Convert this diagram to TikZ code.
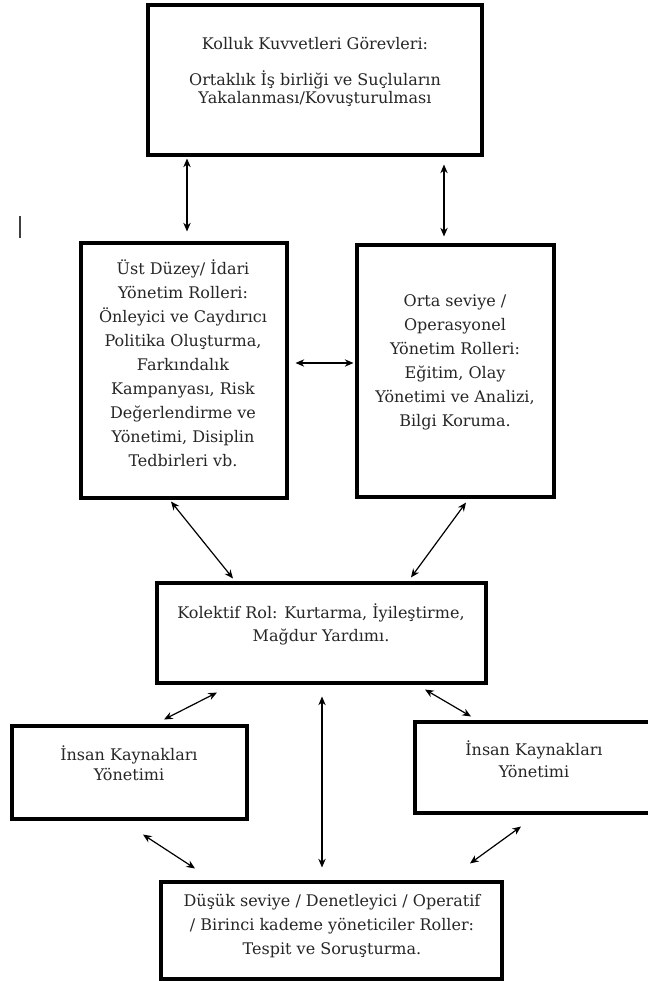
\documentclass[tikz,border=0pt]{standalone}
\usepackage{fontspec}
\setmainfont{DejaVu Serif}
\usetikzlibrary{arrows.meta}
\tikzset{
  box/.style={draw=black, line width=2.3pt, rectangle, inner sep=0pt, fill=white},
  txt/.style={align=center, inner sep=0pt, font=\fontsize{12}{18}\selectfont, text=black!85},
  arr/.style={line width=0.9pt, {Stealth[length=6.5pt,width=5.5pt]}-{Stealth[length=6.5pt,width=5.5pt]}}
}
\begin{document}
\begin{tikzpicture}[x=0.75pt,y=-0.75pt]
\useasboundingbox[fill=white] (0,0) rectangle (648,981);
% boxes
\node[box, minimum width=250.5pt, minimum height=112.5pt] (top) at (315,80) {};
\node[box, minimum width=154.5pt, minimum height=191.25pt] (ust) at (184,370.5) {};
\node[box, minimum width=147.75pt, minimum height=189pt] (orta) at (455.5,371) {};
\node[box, minimum width=246.75pt, minimum height=75pt] (kol) at (321.5,633) {};
\node[box, minimum width=176.25pt, minimum height=69.75pt] (hrL) at (129.5,772.5) {};
\node[box, minimum width=177.75pt, minimum height=68.25pt] (hrR) at (533.5,767.5) {};
\node[box, minimum width=255.75pt, minimum height=72.75pt] (bot) at (331.5,930.5) {};
% texts
\node[txt] (t1) at (315,43) {Kolluk Kuvvetleri Görevleri:};
\node[txt, font=\fontsize{12}{13.5}\selectfont] (t2) at (315,89) {Ortaklık İş birliği ve Suçluların\\Yakalanması/Kovuşturulması};
\node[txt] (t3) at (183,363.5) {Üst Düzey/ İdari\\Yönetim Rolleri:\\Önleyici ve Caydırıcı\\Politika Oluşturma,\\Farkındalık\\Kampanyası, Risk\\Değerlendirme ve\\Yönetimi, Disiplin\\Tedbirleri vb.};
\node[txt] (t4) at (455,362.5) {Orta seviye /\\Operasyonel\\Yönetim Rolleri:\\Eğitim, Olay\\Yönetimi ve Analizi,\\Bilgi Koruma.};
\node[txt, font=\fontsize{12}{17.25}\selectfont] (t5) at (321,624.5) {Kolektif Rol: Kurtarma, İyileştirme,\\Mağdur Yardımı.};
\node[txt, font=\fontsize{12}{15}\selectfont] (t6) at (129,763) {İnsan Kaynakları\\Yönetimi};
\node[txt, font=\fontsize{12}{16.5}\selectfont] (t7) at (534,759) {İnsan Kaynakları\\Yönetimi};
\node[txt] (t8) at (332,926.5) {Düşük seviye / Denetleyici / Operatif\\/ Birinci kademe yöneticiler Roller:\\Tespit ve Soruşturma.};
% connectors
\draw[arr] ([shift={(-128,2)}]top.south) -- ([shift={(3,-10)}]ust.north);
\draw[arr] ([shift={(129,8)}]top.south) -- ([shift={(-11.5,-7)}]orta.north);
\draw[arr] ([shift={(7,-7.5)}]ust.east) -- ([shift={(-2,-8)}]orta.west);
\draw[arr] ([shift={(-13,2)}]ust.south) -- ([shift={(-88.5,-3)}]kol.north);
\draw[arr] ([shift={(10.5,4)}]orta.south) -- ([shift={(89.5,-4)}]kol.north);
\draw[arr] ([shift={(-104.5,8)}]kol.south) -- ([shift={(34.5,-5)}]hrL.north);
\draw[arr] ([shift={(0.5,12)}]kol.south) -- ([shift={(-9.5,-13)}]bot.north);
\draw[arr] ([shift={(103.5,5)}]kol.south) -- ([shift={(-62.5,-4)}]hrR.north);
\draw[arr] ([shift={(13.5,14)}]hrL.south) -- ([shift={(-136.5,-12)}]bot.north);
\draw[arr] ([shift={(-12.5,12)}]hrR.south) -- ([shift={(138.5,-17)}]bot.north);
% stray mark
\draw[line width=1.4pt, black!75] (20,216) -- (20,238);
\end{tikzpicture}
\end{document}
